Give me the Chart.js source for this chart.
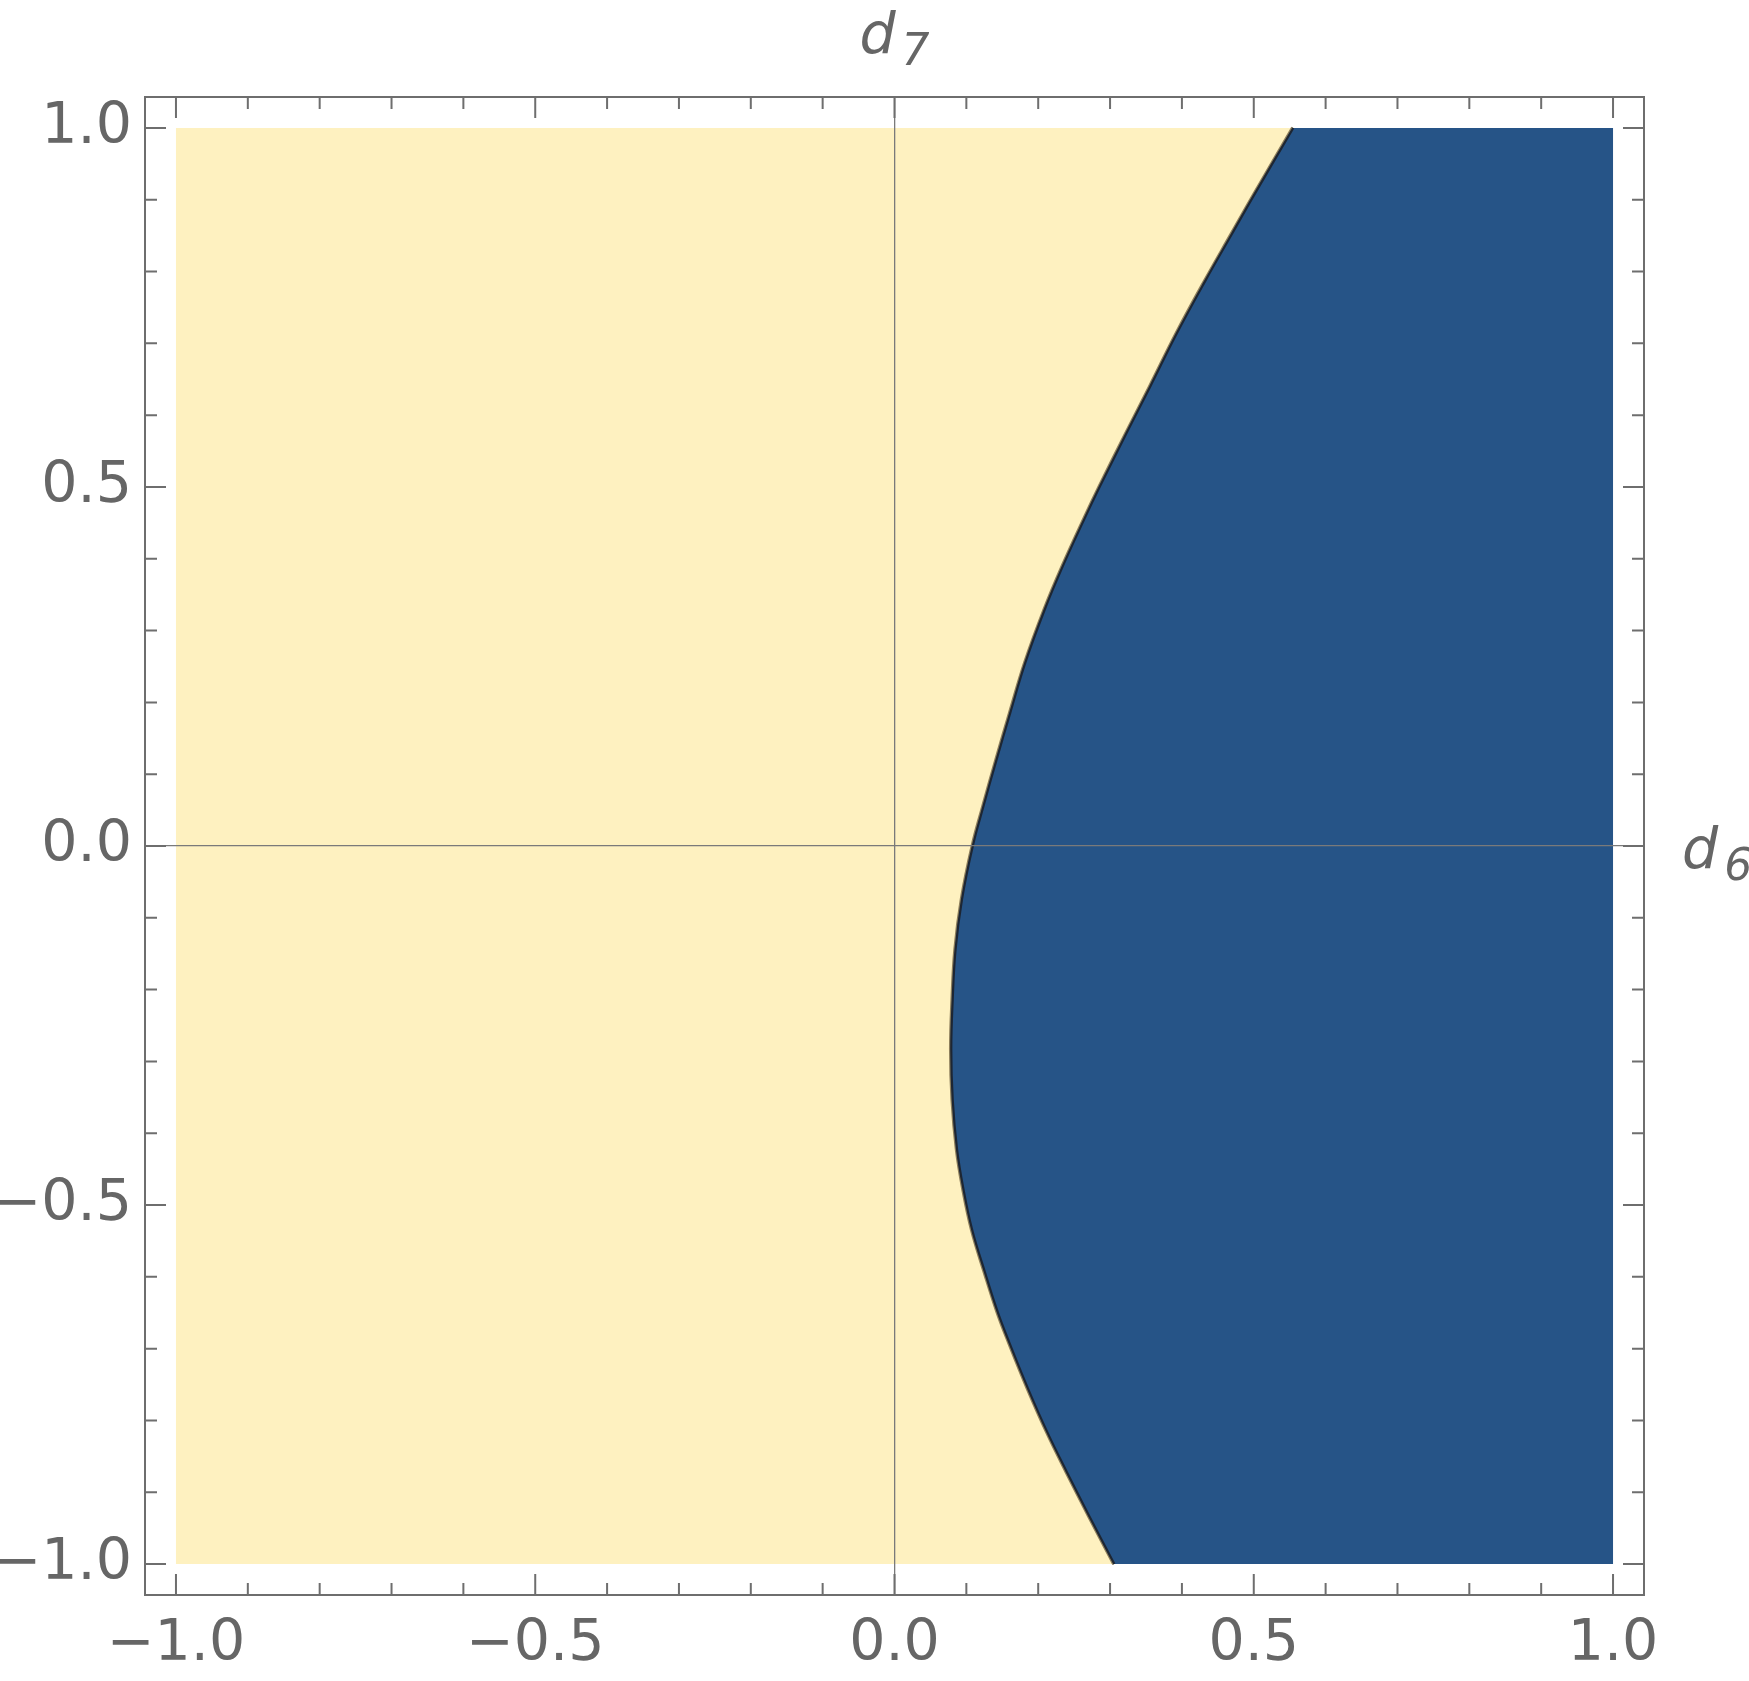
<!DOCTYPE html>
<html>
<head>
<meta charset="utf-8">
<script src="https://cdn.jsdelivr.net/npm/chart.js@4.4.1/dist/chart.umd.min.js"></script>
<style>
  html, body { margin: 0; padding: 0; background: #fff; }
</style>
</head>
<body>
<canvas id="myChart" width="1749" height="1681"></canvas>
<script>
/*
    Region plot in the (d6, d7) plane: yellow region left of the boundary, blue region right of it
*/

// boundary curve, from top (d7 = 1) to bottom (d7 = -1)
const curveY = [1.0, 0.904, 0.853, 0.786, 0.714, 0.640, 0.575, 0.501, 0.457, 0.389, 0.329, 0.255, 0.185, 0.120, 0.056, 0.0,
                -0.074, -0.144, -0.214, -0.283, -0.353, -0.422, -0.478, -0.534, -0.594, -0.650, -0.692, -0.756, -0.817, -0.872, -0.933, -1.0];
const curveX = [0.555, 0.499, 0.470, 0.432, 0.393, 0.356, 0.323, 0.286, 0.265, 0.234, 0.209, 0.182, 0.161, 0.142, 0.124, 0.109,
                0.094, 0.085, 0.081, 0.079, 0.081, 0.087, 0.096, 0.108, 0.126, 0.144, 0.160, 0.186, 0.213, 0.240, 0.271, 0.306];

const regionMin = -1;   // plotted square goes from -1 to 1 on both axes
const regionMax = 1;

const tickVals  = [-1, -0.5, 0, 0.5, 1];                 // labelled ticks
const minorVals = [-0.9, -0.8, -0.7, -0.6, -0.4, -0.3, -0.2, -0.1,
                   0.1, 0.2, 0.3, 0.4, 0.6, 0.7, 0.8, 0.9];
const xAxisName = ['d', '6'];   // d6, drawn with a subscript
const yAxisName = ['d', '7'];   // d7

const axisMin = -1.0431;   // little white margin inside the frame
const axisMax = 1.0431;

const curvePts = curveY.map((y, i) => ({x: curveX[i], y: y}));
const curveTop = curvePts[0];
const curveBottom = curvePts[curvePts.length - 1];

// closed shapes; corner points are doubled so the smoothing keeps the straight edges straight
const yellowPts = [{x: regionMin, y: regionMin}, {x: regionMin, y: regionMax}, {x: regionMin, y: regionMax}, curveTop]
    .concat(curvePts);
const bluePts = [{x: regionMax, y: regionMax}, {x: regionMax, y: regionMin}, {x: regionMax, y: regionMin}, curveBottom]
    .concat(curvePts.slice().reverse());

const FONT = 'DejaVu Sans';
const TXT = '#666666';
const FRAME = '#6e6e6e';
const TENSION = 0.4;

function fmt(v) {
    return v.toFixed(1).replace('-', '\u2212');
}

// inward tick marks on all four sides of the frame + the d6 / d7 axis names
const frameTicks = {
    id: 'frameTicks',
    afterDraw(chart) {
        const {ctx, chartArea: a, scales} = chart;
        const sx = scales.x, sy = scales.y;
        ctx.save();
        ctx.strokeStyle = FRAME;
        ctx.lineWidth = 2;
        const sides = [[tickVals, 21], [minorVals, 12]];
        sides.forEach(([vals, len]) => {
            vals.forEach(v => {
                const px = sx.getPixelForValue(v);
                const py = sy.getPixelForValue(v);
                ctx.beginPath();
                ctx.moveTo(px, a.bottom); ctx.lineTo(px, a.bottom - len);
                ctx.moveTo(px, a.top);    ctx.lineTo(px, a.top + len);
                ctx.moveTo(a.left, py);   ctx.lineTo(a.left + len, py);
                ctx.moveTo(a.right, py);  ctx.lineTo(a.right - len, py);
                ctx.stroke();
            });
        });

        // axis names: italic d with a smaller subscript digit
        ctx.fillStyle = TXT;
        ctx.textBaseline = 'alphabetic';
        ctx.textAlign = 'left';
        const big = 'italic 57px "' + FONT + '"';
        const small = 'italic 44px "' + FONT + '"';
        function name(parts, x, y, centred) {
            ctx.font = big;
            const w1 = ctx.measureText(parts[0]).width;
            ctx.font = small;
            const w2 = ctx.measureText(parts[1]).width;
            const x0 = centred ? x - (w1 + 6 + w2) / 2 : x;
            ctx.font = big;
            ctx.fillText(parts[0], x0, y);
            ctx.font = small;
            ctx.fillText(parts[1], x0 + w1 + 6, y + 12);
        }
        name(yAxisName, sx.getPixelForValue(0), a.top - 44, true);
        name(xAxisName, a.right + 38, sy.getPixelForValue(0) + 22, false);
        ctx.restore();
    }
};

function zeroLine(c) {
    return c.tick && c.tick.value === 0 ? '#7a7a7a' : 'rgba(0,0,0,0)';
}

const ctx = document.getElementById('myChart');
const myChart = new Chart(ctx, {
    type: 'scatter',
    data: {
        datasets: [
            {   // boundary, dark core
                data: curvePts,
                showLine: true,
                fill: false,
                borderColor: '#1d2633',
                borderWidth: 2.2,
                pointRadius: 0,
                tension: TENSION,
                order: 0
            },
            {   // blue region
                data: bluePts,
                showLine: true,
                fill: 'shape',
                backgroundColor: '#265487',
                borderWidth: 0,
                pointRadius: 0,
                tension: TENSION,
                order: 2
            },
            {   // boundary, tan edge
                data: curvePts,
                showLine: true,
                fill: false,
                borderColor: '#8d7f5c',
                borderWidth: 4.6,
                pointRadius: 0,
                tension: TENSION,
                order: 3
            },
            {   // yellow region
                data: yellowPts,
                showLine: true,
                fill: 'shape',
                backgroundColor: '#fef1c0',
                borderWidth: 0,
                pointRadius: 0,
                tension: TENSION,
                order: 4
            }
        ]
    },
    options: {
        responsive: false,
        animation: false,
        layout: { padding: 0 },
        plugins: {
            legend: { display: false },
            tooltip: { enabled: false }
        },
        scales: {
            x: {
                type: 'linear',
                position: 'bottom',
                min: axisMin,
                max: axisMax,
                afterBuildTicks: s => { s.ticks = tickVals.map(v => ({value: v})); },
                afterFit: s => { s.height = 86; },
                ticks: {
                    autoSkip: false,
                    maxRotation: 0,
                    padding: 16,
                    color: TXT,
                    font: { family: FONT, size: 57 },
                    callback: v => fmt(v)
                },
                grid: { drawTicks: false, color: zeroLine, lineWidth: 1.3, z: 1 },
                border: { display: true, color: FRAME, width: 2, z: 2 }
            },
            x2: {
                type: 'linear',
                position: 'top',
                min: axisMin,
                max: axisMax,
                afterFit: s => { s.height = 97; },
                ticks: { display: false },
                grid: { drawTicks: false, drawOnChartArea: false },
                border: { display: true, color: FRAME, width: 2 }
            },
            y: {
                type: 'linear',
                position: 'left',
                min: axisMin,
                max: axisMax,
                afterBuildTicks: s => { s.ticks = tickVals.map(v => ({value: v})); },
                afterFit: s => { s.width = 145; },
                ticks: {
                    autoSkip: false,
                    padding: 13,
                    color: TXT,
                    font: { family: FONT, size: 57 },
                    callback: v => fmt(v)
                },
                grid: { drawTicks: false, color: zeroLine, lineWidth: 1.3, z: 1 },
                border: { display: true, color: FRAME, width: 2, z: 2 }
            },
            y2: {
                type: 'linear',
                position: 'right',
                min: axisMin,
                max: axisMax,
                afterFit: s => { s.width = 105; },
                ticks: { display: false },
                grid: { drawTicks: false, drawOnChartArea: false },
                border: { display: true, color: FRAME, width: 2 }
            }
        }
    },
    plugins: [frameTicks]
});
</script>
</body>
</html>
